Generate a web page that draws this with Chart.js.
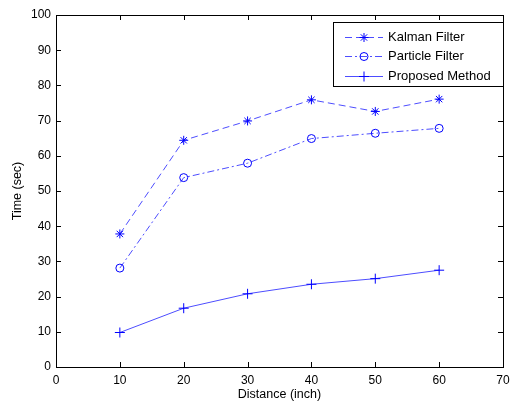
<!DOCTYPE html>
<html>
<head>
<meta charset="utf-8">
<script src="https://cdn.jsdelivr.net/npm/chart.js@4.4.1/dist/chart.umd.min.js"></script>
<style>
  html, body { margin: 0; padding: 0; background: #fff; }
</style>
</head>
<body>
<canvas id="chart" width="510" height="403"></canvas>
<script>
// data
const distances = [10, 20, 30, 40, 50, 60];
const kalmanTimes = [37.8, 64.4, 69.9, 75.9, 72.6, 76.1];
const particleTimes = [28.1, 53.8, 57.9, 64.9, 66.4, 67.8];
const proposedTimes = [9.8, 16.7, 20.8, 23.5, 25.1, 27.5];
const xTicks = [0, 10, 20, 30, 40, 50, 60, 70];
const yTicks = [0, 10, 20, 30, 40, 50, 60, 70, 80, 90, 100];

const FONT = 'Arial, "Liberation Sans", sans-serif';
const BLUE = '#0000ff';
const LINE = '#4d4dff';

const pts = ys => distances.map((x, i) => ({ x, y: ys[i] }));

// MATLAB style box, inward ticks, legend inside the axes
const boxPlugin = {
  id: 'boxPlugin',
  afterDraw(chart) {
    const { ctx, chartArea: a, scales } = chart;
    ctx.save();
    ctx.strokeStyle = '#000';
    ctx.lineWidth = 1;
    ctx.strokeRect(Math.round(a.left) + 0.5, Math.round(a.top) + 0.5,
      Math.round(a.right - a.left), Math.round(a.bottom - a.top));
    ctx.beginPath();
    xTicks.forEach(v => {
      const px = Math.round(scales.x.getPixelForValue(v)) + 0.5;
      ctx.moveTo(px, a.bottom); ctx.lineTo(px, a.bottom - 5);
      ctx.moveTo(px, a.top); ctx.lineTo(px, a.top + 5);
    });
    yTicks.forEach(v => {
      const py = Math.round(scales.y.getPixelForValue(v)) + 0.5;
      ctx.moveTo(a.left, py); ctx.lineTo(a.left + 5, py);
      ctx.moveTo(a.right, py); ctx.lineTo(a.right - 5, py);
    });
    ctx.stroke();

    // legend
    const lx = 333, ly = 22, lw = 170, lh = 64;
    ctx.fillStyle = '#fff';
    ctx.fillRect(lx, ly, lw, lh);
    ctx.strokeStyle = '#000';
    ctx.strokeRect(lx + 0.5, ly + 0.5, lw, lh);
    ctx.font = '13px ' + FONT;
    ctx.textBaseline = 'middle';
    chart.data.datasets.forEach((ds, i) => {
      const y = Math.round(ly + 15 + i * 19.3) + 0.5;
      ctx.strokeStyle = ds.borderColor;
      ctx.lineWidth = 1;
      ctx.setLineDash(ds.borderDash || []);
      ctx.beginPath();
      ctx.moveTo(345, y); ctx.lineTo(383, y);
      ctx.stroke();
      ctx.setLineDash([]);
      ctx.strokeStyle = BLUE;
      ctx.fillStyle = ds.pointBackgroundColor;
      Chart.helpers.drawPoint(ctx, {
        pointStyle: ds.pointStyle, radius: ds.pointRadius, borderWidth: 1
      }, 364, y);
      ctx.fillStyle = '#000';
      ctx.fillText(ds.label, 388, y);
    });
    ctx.restore();
  }
};

new Chart(document.getElementById('chart'), {
  type: 'line',
  data: {
    datasets: [
      {
        label: 'Kalman Filter',
        data: pts(kalmanTimes),
        borderColor: LINE, borderWidth: 1, borderDash: [7, 4],
        pointStyle: 'star', pointRadius: 4.5,
        pointBorderColor: BLUE, pointBackgroundColor: BLUE, pointBorderWidth: 1
      },
      {
        label: 'Particle Filter',
        data: pts(particleTimes),
        borderColor: LINE, borderWidth: 1, borderDash: [7, 3, 2, 3],
        pointStyle: 'circle', pointRadius: 4,
        pointBorderColor: BLUE, pointBackgroundColor: 'rgba(0,0,0,0)', pointBorderWidth: 1
      },
      {
        label: 'Proposed Method',
        data: pts(proposedTimes),
        borderColor: LINE, borderWidth: 1,
        pointStyle: 'cross', pointRadius: 5,
        pointBorderColor: BLUE, pointBackgroundColor: BLUE, pointBorderWidth: 1
      }
    ]
  },
  options: {
    responsive: false,
    animation: false,
    devicePixelRatio: 1,
    layout: { padding: { left: 0, right: 7, top: 15, bottom: 0 } },
    plugins: { legend: { display: false }, tooltip: { enabled: false } },
    scales: {
      x: {
        type: 'linear', min: 0, max: 70,
        afterBuildTicks: s => { s.ticks = xTicks.map(v => ({ value: v })); },
        afterFit: s => { s.height = 36; s.paddingLeft = 0; s.paddingRight = 0; },
        grid: { display: false, drawTicks: false },
        border: { display: false },
        ticks: { color: '#000', font: { family: FONT, size: 12 }, padding: 6, maxRotation: 0, autoSkip: false },
        title: { display: true, text: 'Distance (inch)', color: '#000', font: { family: FONT, size: 12.5 }, padding: { top: 0, bottom: 1 } }
      },
      y: {
        type: 'linear', min: 0, max: 100,
        afterBuildTicks: s => { s.ticks = yTicks.map(v => ({ value: v })); },
        afterFit: s => { s.width = 56; s.paddingTop = 0; s.paddingBottom = 0; },
        grid: { display: false, drawTicks: false },
        border: { display: false },
        ticks: { color: '#000', font: { family: FONT, size: 12 }, padding: 5, autoSkip: false },
        title: { display: true, text: 'Time (sec)', color: '#000', font: { family: FONT, size: 12.5 }, padding: { top: 10, bottom: 0 } }
      }
    }
  },
  plugins: [boxPlugin]
});
</script>
</body>
</html>
